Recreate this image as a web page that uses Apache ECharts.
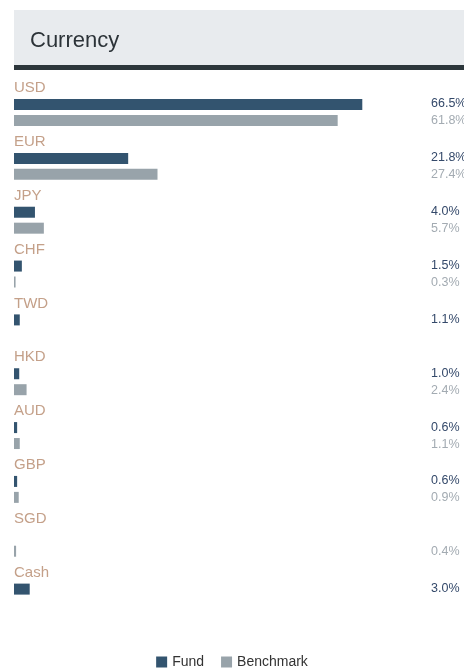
<!DOCTYPE html>
<html>
<head>
<meta charset="utf-8">
<script src="https://cdn.jsdelivr.net/npm/echarts@6/dist/echarts.min.js"></script>
<style>
  html, body { margin: 0; padding: 0; background: #fff; }
  #chart { width: 464px; height: 669px; }
</style>
</head>
<body>
<div id="chart"></div>
<script>
// data
const categories = ['USD', 'EUR', 'JPY', 'CHF', 'TWD', 'HKD', 'AUD', 'GBP', 'SGD', 'Cash'];
const fundValues = [66.5, 21.8, 4.0, 1.5, 1.1, 1.0, 0.6, 0.6, null, 3.0];
const benchValues = [61.8, 27.4, 5.7, 0.3, null, 2.4, 1.1, 0.9, 0.4, null];

const FONT = '"Liberation Sans", Arial, sans-serif';

function fmt(v) {
    return v == null ? '\u00a0' : v.toFixed(1) + '%';
}

const chart = echarts.init(document.getElementById('chart'));

chart.setOption({
    animation: false,
    textStyle: { fontFamily: FONT },
    graphic: [
        { type: 'rect', shape: { x: 14, y: 10, width: 450, height: 55 }, style: { fill: '#e8ebee' }, z: -1 },
        { type: 'rect', shape: { x: 14, y: 65, width: 450, height: 5 }, style: { fill: '#2c363b' }, z: -1 }
    ],
    title: {
        text: 'Currency',
        left: 25,
        top: 25,
        textStyle: { fontSize: 22, fontWeight: 'normal', color: '#2c3338', fontFamily: FONT }
    },
    legend: {
        top: 650,
        left: 'center',
        itemWidth: 11,
        itemHeight: 11,
        itemGap: 17,
        icon: 'rect',
        textStyle: { fontSize: 14, color: '#333', fontFamily: FONT },
        data: ['Fund', 'Benchmark']
    },
    grid: { left: 14, right: 31, top: 85.6, bottom: 45, outerBoundsMode: 'none' },
    xAxis: {
        type: 'value',
        min: 0,
        max: 80,
        show: false
    },
    yAxis: [
        {
            type: 'category',
            inverse: true,
            data: categories,
            axisLine: { show: false },
            axisTick: { show: false },
            axisLabel: {
                inside: true,
                margin: 0,
                verticalAlign: 'middle',
                // name on the top line, empty line below pushes it above the bars
                formatter: function (val) {
                    return '{n|' + val + '}\n{g|\u00a0}';
                },
                rich: {
                    n: { fontSize: 15, color: '#c4a089', lineHeight: 14, fontFamily: FONT },
                    g: { fontSize: 14, lineHeight: 49 }
                }
            }
        },
        {
            type: 'category',
            inverse: true,
            position: 'right',
            data: categories,
            axisLine: { show: false },
            axisTick: { show: false },
            axisLabel: {
                margin: -2,
                align: 'left',
                formatter: function (val, idx) {
                    return '{a|' + fmt(fundValues[idx]) + '}\n{b|' + fmt(benchValues[idx]) + '}';
                },
                rich: {
                    a: { fontSize: 12.5, color: '#34496a', lineHeight: 17, fontFamily: FONT },
                    b: { fontSize: 12.5, color: '#a3abb2', lineHeight: 17, fontFamily: FONT }
                }
            }
        }
    ],
    series: [
        {
            name: 'Fund',
            type: 'bar',
            data: fundValues,
            barWidth: 11,
            barGap: '45%',
            itemStyle: { color: '#33546f' }
        },
        {
            name: 'Benchmark',
            type: 'bar',
            data: benchValues,
            barWidth: 11,
            itemStyle: { color: '#98a3aa' }
        }
    ]
});

window.addEventListener('resize', function () {
    chart.resize();
});
</script>
</body>
</html>
